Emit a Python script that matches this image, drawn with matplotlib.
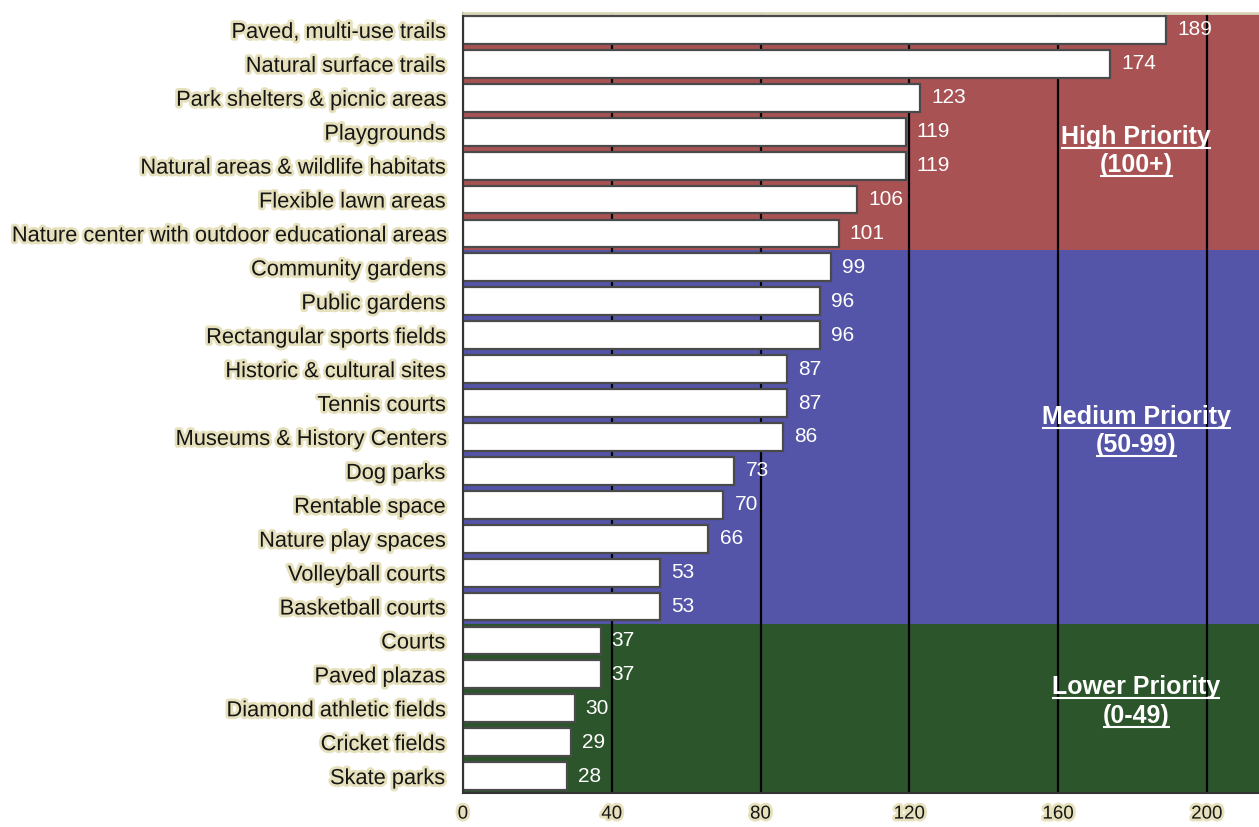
import matplotlib.pyplot as plt
import matplotlib.patheffects as pe

# data, top to bottom
amenities = [
    "Paved, multi-use trails", "Natural surface trails", "Park shelters & picnic areas",
    "Playgrounds", "Natural areas & wildlife habitats", "Flexible lawn areas",
    "Nature center with outdoor educational areas", "Community gardens", "Public gardens",
    "Rectangular sports fields", "Historic & cultural sites", "Tennis courts",
    "Museums & History Centers", "Dog parks", "Rentable space", "Nature play spaces",
    "Volleyball courts", "Basketball courts", "Courts", "Paved plazas",
    "Diamond athletic fields", "Cricket fields", "Skate parks",
]
votes = [189, 174, 123, 119, 119, 106, 101, 99, 96, 96, 87, 87, 86, 73, 70, 66,
         53, 53, 37, 37, 30, 29, 28]

# priority bands: rows covered, colour, title, range
band_titles = ["High Priority", "Medium Priority", "Lower Priority"]
band_ranges = ["(100+)", "(50-99)", "(0-49)"]
band_rows = [(0, 6), (7, 17), (18, 22)]
band_colors = ["#a85253", "#5454a8", "#2c552c"]

xticks = [0, 40, 80, 120, 160, 200]

plt.rcParams["font.family"] = ["Liberation Sans", "DejaVu Sans"]
glow = [pe.withStroke(linewidth=4, foreground="#e6e1bc")]

fig = plt.figure(figsize=(12.59, 8.27), dpi=100)
ax = fig.add_axes([0.3677, 0.041, 0.6323, 0.9433])

n = len(amenities)
ypos = list(range(n))

for (r0, r1), col in zip(band_rows, band_colors):
    ax.axhspan(r0 - 0.5, r1 + 0.5, color=col, zorder=0, lw=0)

for x in xticks[1:]:
    ax.axvline(x, color="black", lw=1.6, zorder=1)

ax.barh(ypos, votes, height=0.82, color="white", edgecolor="#4a4a4a", lw=1.6, zorder=2)

for y, v in zip(ypos, votes):
    ax.text(v + 3, y, str(v), color="white", fontsize=15, va="center", ha="left", zorder=3)

ax.set_xlim(0, 214)
ax.set_ylim(n - 0.5, -0.5)
ax.set_yticks(ypos)
ax.set_yticklabels(amenities, fontsize=15.7, color="#151515")
ax.set_xticks(xticks)
ax.set_xticklabels([str(t) for t in xticks], fontsize=13.5, color="#151515")
ax.tick_params(axis="y", length=0, pad=13)
ax.tick_params(axis="x", length=0, pad=9)
for lab in ax.get_yticklabels() + ax.get_xticklabels():
    lab.set_path_effects(glow)

ax.spines["right"].set_visible(False)
ax.spines["top"].set_color("#d8d6b8")
ax.spines["top"].set_linewidth(2)
ax.spines["left"].set_color("#333333")
ax.spines["left"].set_linewidth(1.5)
ax.spines["bottom"].set_color("#333333")
ax.spines["bottom"].set_linewidth(1.5)

# band titles, underlined
title_rows = [(3.15, 3.98), (11.42, 12.24), (19.38, 20.24)]
titles = []
for (ya, yb), t, r in zip(title_rows, band_titles, band_ranges):
    t1 = ax.text(181, ya, t, color="white", fontsize=18, fontweight="bold",
                 ha="center", va="center", zorder=4)
    t2 = ax.text(181, yb, r, color="white", fontsize=18, fontweight="bold",
                 ha="center", va="center", zorder=4)
    titles += [t1, t2]

fig.canvas.draw()
inv = ax.transData.inverted()
for t in titles:
    bb = t.get_window_extent()
    (x0, y0), (x1, _) = inv.transform([(bb.x0, bb.y0 + 1), (bb.x1, bb.y0 + 1)])
    ax.plot([x0, x1], [y0, y0], color="white", lw=1.5, zorder=4, solid_capstyle="butt")

fig.savefig("out.png", dpi=100)
